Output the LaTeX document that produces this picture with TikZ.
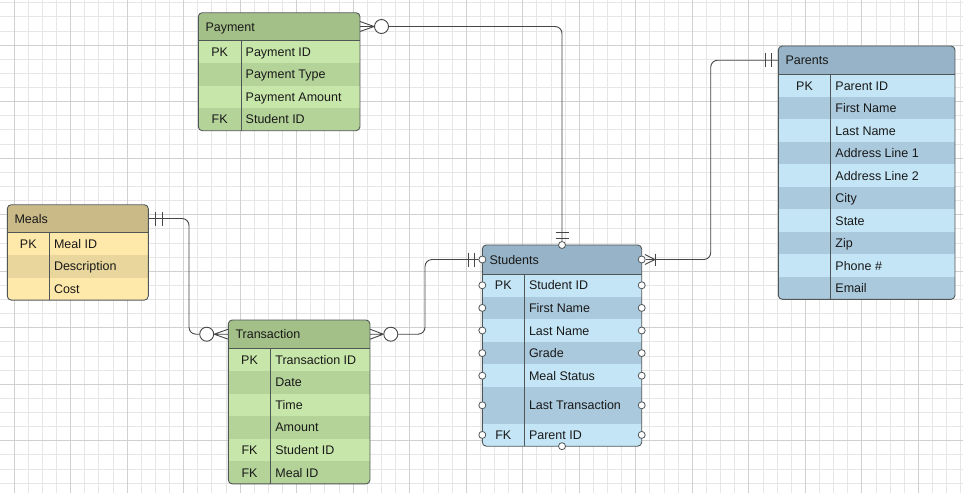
\documentclass[tikz,border=0pt]{standalone}
\usepackage{fontspec}
\setmainfont{Liberation Sans}
\definecolor{grhd}{RGB}{163,192,136}
\definecolor{grlt}{RGB}{199,230,170}
\definecolor{grdk}{RGB}{180,211,153}
\definecolor{ylhd}{RGB}{201,186,136}
\definecolor{yllt}{RGB}{255,233,170}
\definecolor{yldk}{RGB}{232,214,156}
\definecolor{blhd}{RGB}{150,179,199}
\definecolor{bllt}{RGB}{195,229,246}
\definecolor{bldk}{RGB}{170,201,221}
\definecolor{edgeC}{RGB}{80,86,86}
\definecolor{lineC}{RGB}{70,70,70}
\definecolor{txtC}{RGB}{25,25,25}
\definecolor{gridMinor}{RGB}{230,230,230}
\definecolor{gridMajor}{RGB}{208,208,208}
\newcommand{\erfont}{\fontsize{12.5}{15}\selectfont}
\newcommand{\ertable}[9]{%
  \begin{scope}
    \clip[rounded corners=4pt] (#2,#4) rectangle (#3,#5);
    \fill[fill=#8hd] (#2,#4) rectangle (#3,#6);
    \foreach \k/\f/\ya/\yb/\s in \rows {\fill[fill=#8\s] (#2,\ya) rectangle (#3,\yb);}
  \end{scope}
  \draw[edge] (#2,#6) -- (#3,#6);
  \draw[edge] (#7,#6) -- (#7,#5);
  \draw[edge, rounded corners=4pt] (#2,#4) rectangle (#3,#5);
  \node[txt, anchor=base west] (#1-title) at (#2+7,{(#4+#6)/2+4.5}) {#9};
  \foreach \k/\f/\ya/\yb/\s [count=\i] in \rows {
    \node[txt, anchor=base] (#1-k\i) at ({(#2+#7)/2},{(\ya+\yb)/2+4.5}) {\k};
    \node[txt, anchor=base west] (#1-f\i) at (#7+4.5,{(\ya+\yb)/2+4.5}) {\f};
  }
}
\begin{document}
\begin{tikzpicture}[x=1pt,y=-1pt,
  edge/.style={draw=edgeC, line width=0.9pt},
  conn/.style={draw=lineC, line width=0.9pt},
  txt/.style={font=\erfont, text=txtC, inner sep=0pt},
  port/.style={circle, draw=edgeC, fill=white, minimum size=7pt, inner sep=0pt, line width=0.8pt},
  bigport/.style={circle, draw=lineC, fill=white, minimum size=14pt, inner sep=0pt, line width=0.9pt},
  gminor/.style={draw=gridMinor, line width=0.8pt},
  gmajor/.style={draw=gridMajor, line width=0.8pt}]
\useasboundingbox (0,0) rectangle (963,493);
\fill[white] (0,0) rectangle (963,493);
% grid
\foreach \i in {0,...,68} {\draw[gminor] ({-0.13+\i*14.13},0) -- ++(0,493);}
\foreach \j in {0,...,34} {\draw[gminor] (0,{2.7+\j*14.13}) -- ++(963,0);}
\foreach \i in {1,5,...,65} {\draw[gmajor] ({-0.13+\i*14.13},0) -- ++(0,493);}
\foreach \j in {3,7,...,31} {\draw[gmajor] (0,{2.7+\j*14.13}) -- ++(963,0);}

% Payment
\def\rows{PK/Payment ID/40.3/62.9/lt, {}/Payment Type/62.9/85.5/dk, {}/Payment Amount/85.5/108.1/lt, FK/Student ID/108.1/130.7/dk}
\ertable{pay}{198.3}{360}{12.7}{130.7}{40.3}{241}{gr}{Payment}
% Meals
\def\rows{PK/Meal ID/232.3/254.9/lt, {}/Description/254.9/277.5/dk, {}/Cost/277.5/300.1/lt}
\ertable{ml}{7.3}{148.3}{204.7}{300.1}{232.3}{49.3}{yl}{Meals}
% Transaction
\def\rows{PK/Transaction ID/348.3/370.9/lt, {}/Date/370.9/393.5/dk, {}/Time/393.5/416.1/lt, {}/Amount/416.1/438.7/dk, FK/Student ID/438.7/461.3/lt, FK/Meal ID/461.3/483.9/dk}
\ertable{tr}{228.3}{370}{320}{483.9}{348.3}{270.7}{gr}{Transaction}
% Students
\def\rows{PK/Student ID/274/296.6/lt, {}/First Name/296.6/319.2/dk, {}/Last Name/319.2/341.8/lt, {}/Grade/341.8/364.4/dk, {}/Meal Status/364.4/387/lt, {}/Last Transaction/387/423.6/dk, FK/Parent ID/423.6/446.2/lt}
\ertable{st}{482.3}{641.7}{245}{446.2}{274}{524.3}{bl}{Students}
% Parents
\def\rows{PK/Parent ID/74.3/96.8/lt, {}/First Name/96.8/119.3/dk, {}/Last Name/119.3/141.8/lt, {}/Address Line 1/141.8/164.3/dk, {}/Address Line 2/164.3/186.8/lt, {}/City/186.8/209.3/dk, {}/State/209.3/231.8/lt, {}/Zip/231.8/254.3/dk, {}/Phone \#/254.3/276.8/lt, {}/Email/276.8/299.3/dk}
\ertable{pa}{778.3}{955}{46}{299.3}{74.3}{830.7}{bl}{Parents}

% Students ports
\node[port] (st-top) at (562,245) {};
\node[port] (st-bot) at (562,446.2) {};
\node[port] (st-pl0) at (482.3,259.5) {};
\node[port] (st-pr0) at (641.7,259.5) {};
\foreach \y [count=\i] in {285.3,307.9,330.5,353.1,375.7,405.3,434.9} {
  \node[port] (st-pl\i) at (482.3,\y) {};
  \node[port] (st-pr\i) at (641.7,\y) {};
}

% 1: Payment -- Students
\coordinate (pay-e) at (360,26.5);
\coordinate (pay-e1) at (360,21.5);
\coordinate (pay-e2) at (360,31.5);
\node[bigport] (c1) at (381.5,26.5) {};
\draw[conn] (pay-e1) -- (c1.west) (pay-e) -- (c1.west) (pay-e2) -- (c1.west);
\draw[conn, rounded corners=7pt] (c1.east) -| (st-top.north);
\draw[conn] ([shift={(-6.5,-13)}]st-top.center) -- ++(13,0);
\draw[conn] ([shift={(-6.5,-6.5)}]st-top.center) -- ++(13,0);

% 2: Meals -- Transaction
\coordinate (ml-e) at (148.3,218.5);
\node[bigport] (c2) at (206.7,334.2) {};
\coordinate (j2) at (189,334.2);
\draw[conn, rounded corners=7pt] (ml-e) -| (j2) -- (c2.west);
\draw[conn] ([shift={(7.4,-7)}]ml-e) -- ++(0,14);
\draw[conn] ([shift={(14.4,-7)}]ml-e) -- ++(0,14);
\coordinate (tr-w) at (228.3,334.2);
\coordinate (tr-w1) at (228.3,329.2);
\coordinate (tr-w2) at (228.3,339.2);
\draw[conn] (tr-w1) -- (c2.east) (tr-w) -- (c2.east) (tr-w2) -- (c2.east);

% 3: Transaction -- Students
\coordinate (tr-e) at (370,334.2);
\coordinate (tr-e1) at (370,329.2);
\coordinate (tr-e2) at (370,339.2);
\node[bigport] (c3) at (390.8,334.2) {};
\draw[conn] (tr-e1) -- (c3.west) (tr-e) -- (c3.west) (tr-e2) -- (c3.west);
\coordinate (j3) at (425,334.2);
\draw[conn, rounded corners=7pt] (c3.east) -- (j3) |- (st-pl0.west);
\draw[conn] ([shift={(-14,-7)}]st-pl0.center) -- ++(0,14);
\draw[conn] ([shift={(-8.3,-7)}]st-pl0.center) -- ++(0,14);

% 4: Students -- Parents
\coordinate (cf4) at (655,259.5);
\draw[conn] ([shift={(3.2,-5)}]st-pr0.center) -- (cf4);
\draw[conn] ([shift={(3.2,5)}]st-pr0.center) -- (cf4);
\draw[conn] (st-pr0.east) -- (cf4);
\draw[conn] ([shift={(0,-6)}]cf4) -- ++(0,12);
\coordinate (pa-w) at (778.3,60.2);
\coordinate (j4) at (710.7,259.5);
\draw[conn, rounded corners=7pt] (cf4) -- (j4) |- (pa-w);
\draw[conn] ([shift={(-13.3,-7)}]pa-w) -- ++(0,14);
\draw[conn] ([shift={(-6.6,-7)}]pa-w) -- ++(0,14);
\end{tikzpicture}
\end{document}
